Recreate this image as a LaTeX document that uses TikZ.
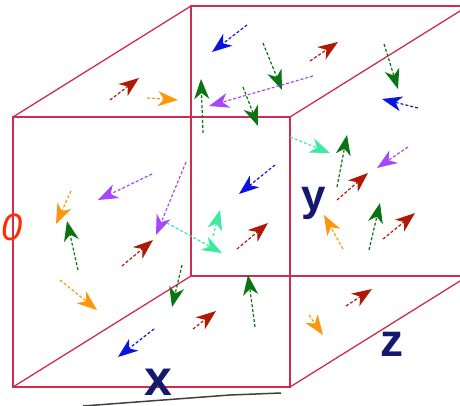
\documentclass[tikz,border=0pt]{standalone}
\usepackage{fontspec}
\setmainfont{Liberation Sans}
\usetikzlibrary{arrows.meta}
\definecolor{cubeedge}{RGB}{205,45,80}
\definecolor{fblue}{RGB}{10,20,225}
\definecolor{fgreen}{RGB}{10,115,20}
\definecolor{fred}{RGB}{175,25,5}
\definecolor{forange}{RGB}{255,150,10}
\definecolor{fpurple}{RGB}{170,70,250}
\definecolor{fmint}{RGB}{60,235,160}
\definecolor{axisnavy}{RGB}{20,25,110}
\definecolor{origred}{RGB}{255,45,0}
\tikzset{
  cubeline/.style={draw=cubeedge, line width=1.3pt},
  fieldvec/.style={line width=1.2pt, densely dashed,
                   -{Stealth[length=20pt, width=15pt, inset=6pt]}},
  axislbl/.style={text=axisnavy, font=\bfseries, inner sep=0pt, anchor=base},
  shadowline/.style={draw=black!75, line width=1.5pt},
}

\begin{document}
\begin{tikzpicture}[x=1pt, y=-1pt]
\useasboundingbox (0,0) rectangle (460,406);

% cube corners
\coordinate (ftl) at (13,117);
\coordinate (ftr) at (290,117);
\coordinate (fbl) at (13,387);
\coordinate (fbr) at (290,387);
\coordinate (btl) at (191,6);
\coordinate (btr) at (468,6);
\coordinate (bbl) at (191,276);
\coordinate (bbr) at (468,276);

\draw[cubeline] (ftl) rectangle (fbr);
\draw[cubeline] (btl) rectangle (bbr);
\draw[cubeline] (ftl) -- (btl);
\draw[cubeline] (ftr) -- (btr);
\draw[cubeline] (fbl) -- (bbl);
\draw[cubeline] (fbr) -- (bbr);

% shadow under the box
\coordinate (sh1) at (83,406);
\coordinate (sh2) at (230,395);
\coordinate (sh3) at (281,393);
\draw[shadowline] (sh1) -- (sh2) -- (sh3);

% field vectors: colour / tail / tip
\foreach \col/\a/\b in {
  fblue/{247,25}/{212,52}, fblue/{418,108}/{382,99},
  fblue/{275,165}/{239,194}, fblue/{154,329}/{118,357},
  fgreen/{263,43}/{282,90}, fgreen/{384,44}/{398,89},
  fgreen/{203,133}/{201,79}, fgreen/{243,87}/{258,126},
  fgreen/{337,187}/{347,135}, fgreen/{78,270}/{67,221},
  fgreen/{182,265}/{172,307}, fgreen/{255,327}/{248,275},
  fgreen/{369,250}/{380,203},
  fred/{310,61}/{338,42}, fred/{110,100}/{139,78},
  fred/{337,200}/{368,173}, fred/{122,266}/{153,240},
  fred/{193,329}/{216,311}, fred/{237,249}/{268,223},
  fred/{383,239}/{415,213}, fred/{346,306}/{372,289},
  forange/{147,98}/{178,100}, forange/{71,191}/{56,224},
  forange/{60,280}/{97,310}, forange/{343,249}/{324,215},
  forange/{309,315}/{323,335},
  fpurple/{313,76}/{209,106}, fpurple/{408,147}/{377,168},
  fpurple/{152,174}/{98,200}, fpurple/{186,162}/{156,235},
  fmint/{290,137}/{330,153}, fmint/{167,223}/{222,253},
  fmint/{213,236}/{220,210}}{
  \draw[fieldvec, \col] (\a) -- (\b);
}

% labels
\node[axislbl, font=\bfseries\fontsize{50}{50}\selectfont] (lblx) at (158,395) {x};
\node[axislbl, font=\bfseries\fontsize{44}{44}\selectfont] (lbly) at (314,210) {y};
\node[axislbl, font=\bfseries\fontsize{46}{46}\selectfont] (lblz) at (392,356) {z};
\node[text=origred, font=\itshape\fontsize{38}{38}\selectfont, inner sep=0pt, anchor=base]
  (lblo) at (12,240) {0};

\end{tikzpicture}
\end{document}
